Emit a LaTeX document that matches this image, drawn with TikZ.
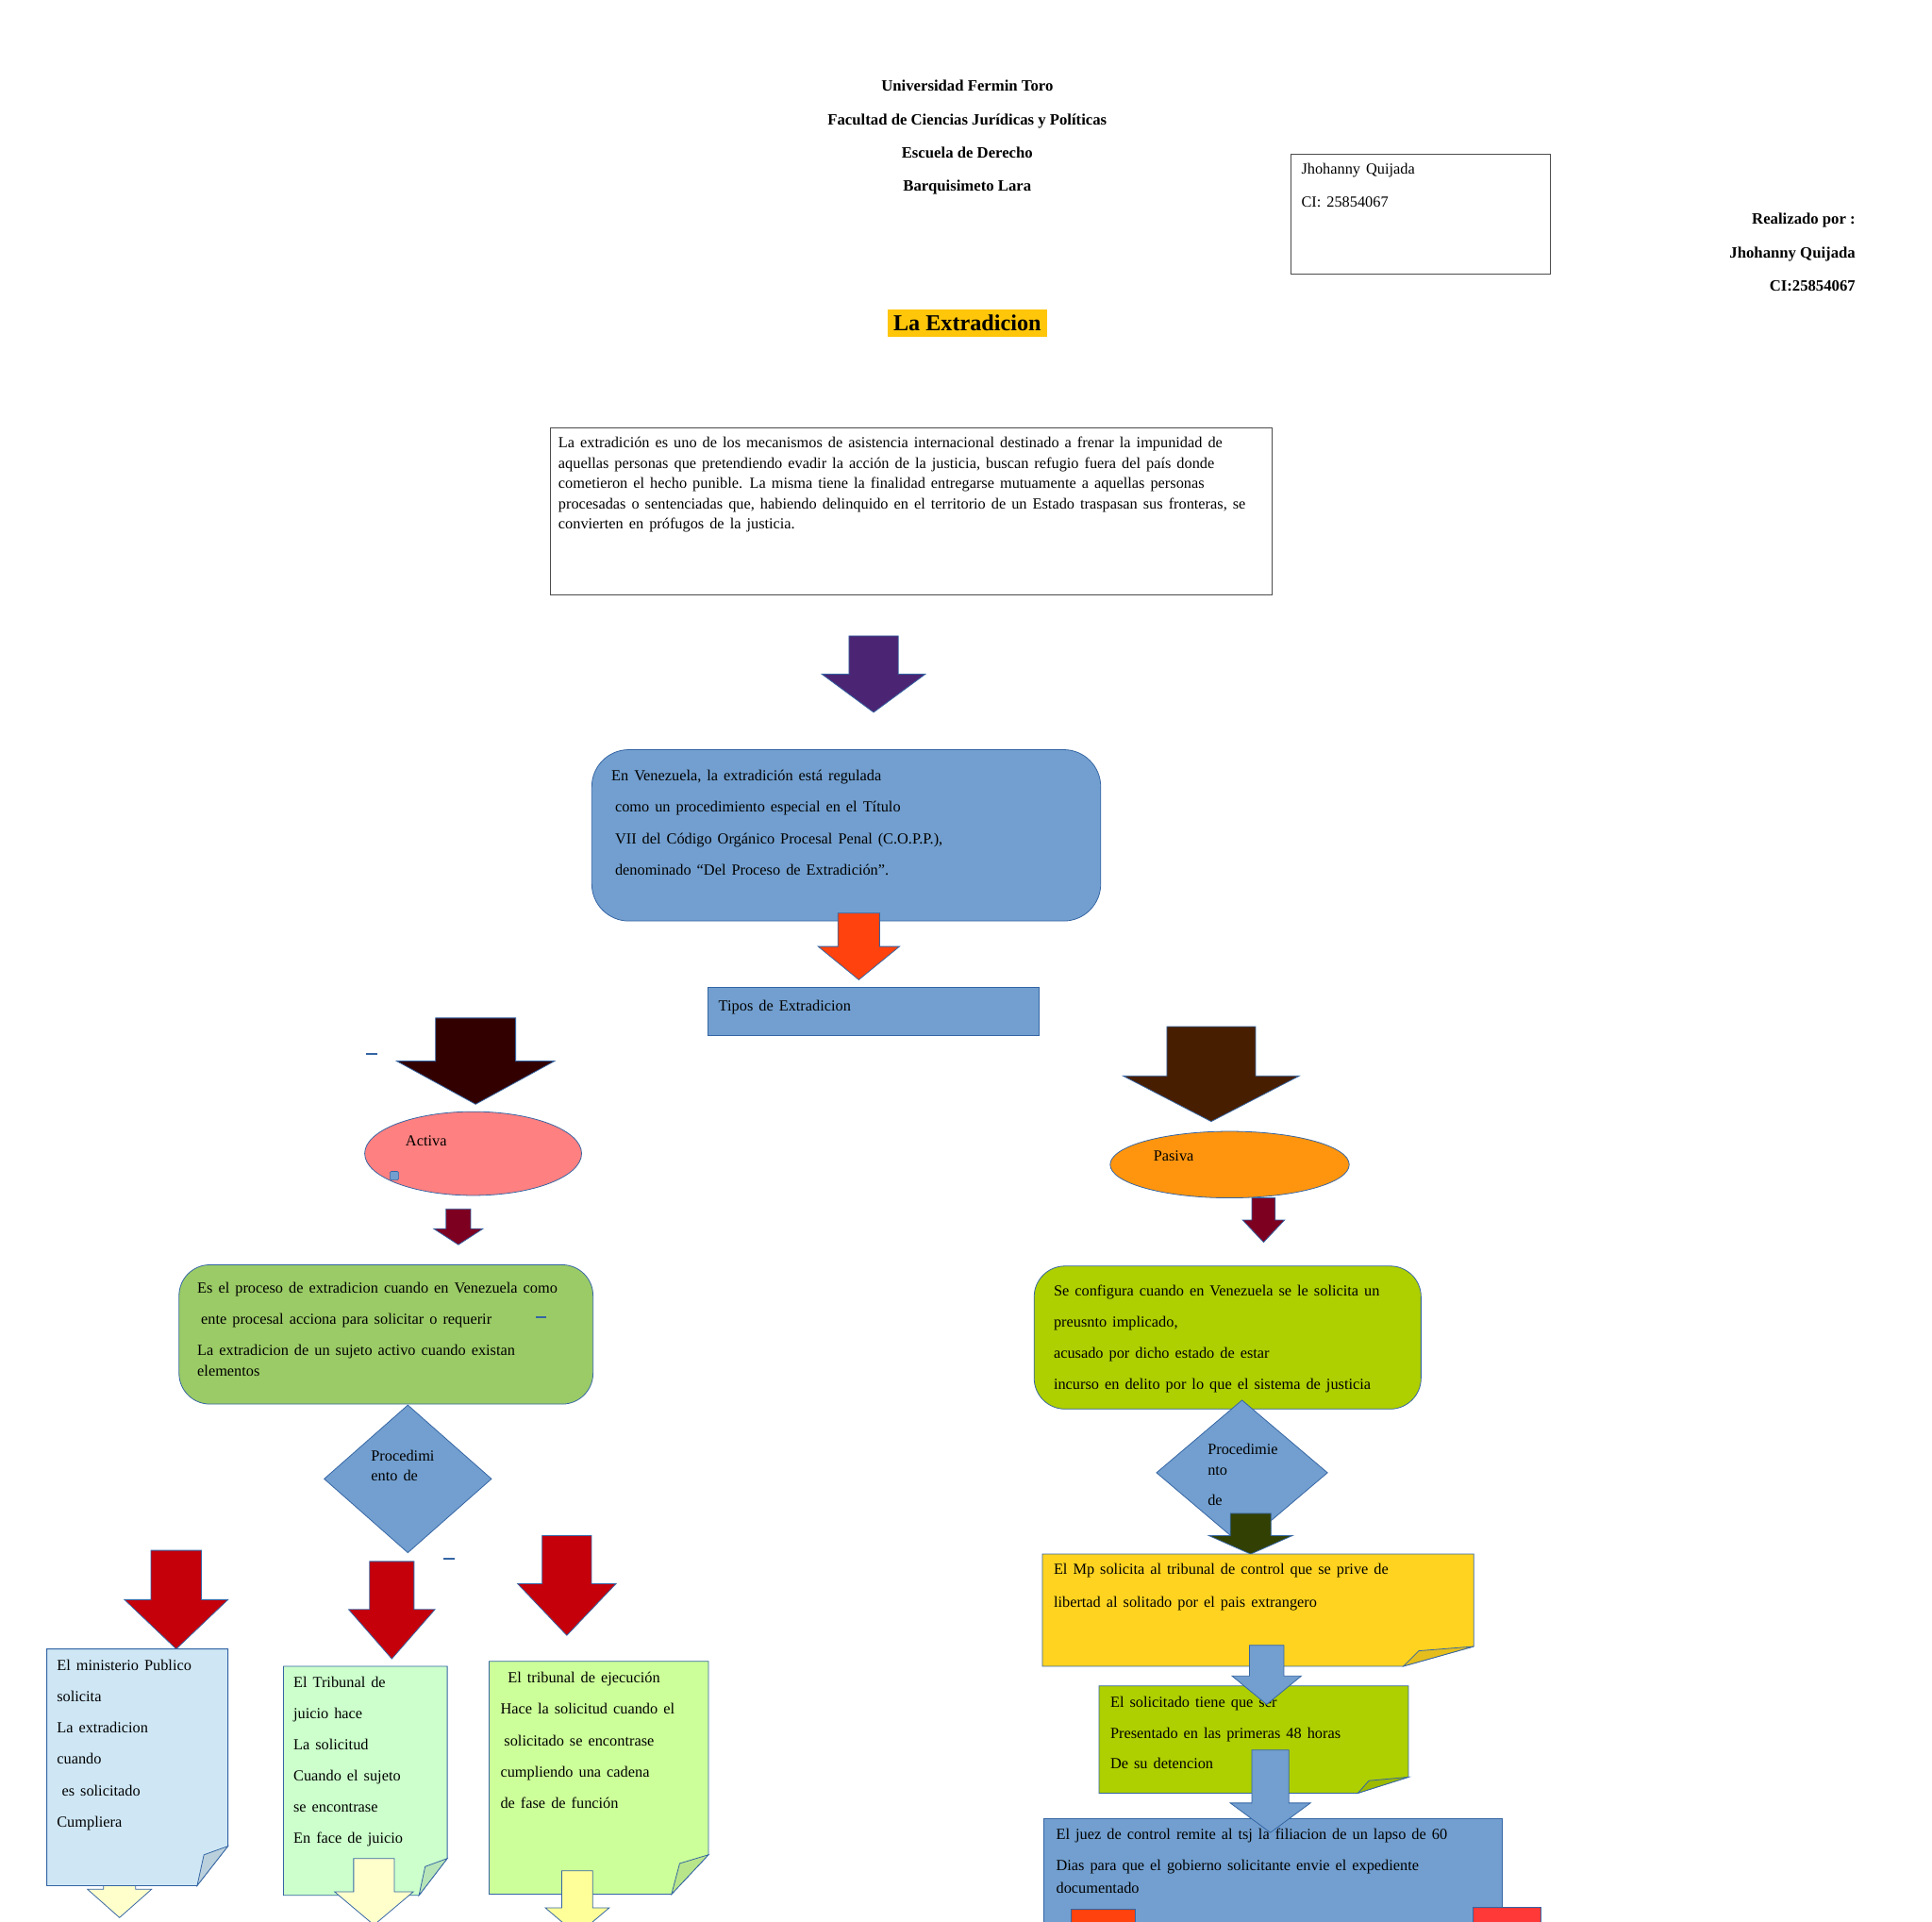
\documentclass[tikz,border=0pt]{standalone}
\usepackage{fontspec}
\setmainfont{Liberation Serif}
\usetikzlibrary{shapes.geometric}
\definecolor{lofill}{HTML}{729FCF}
\definecolor{lobord}{HTML}{3465A4}
\definecolor{orred}{HTML}{FF420E}
\definecolor{lomaroon}{HTML}{7E0021}
\definecolor{lodarkred}{HTML}{C5000B}
\definecolor{pinkact}{HTML}{FF8080}
\definecolor{orangepas}{HTML}{FF950E}
\definecolor{ygreen}{HTML}{AECF00}
\definecolor{goldy}{HTML}{FFD320}
\definecolor{greenbox}{HTML}{9BCB66}
\definecolor{docblue}{HTML}{CFE7F5}
\definecolor{docgreen}{HTML}{CCFFCC}
\definecolor{doclime}{HTML}{CCFF99}
\definecolor{paleyel}{HTML}{FFFFCC}
\definecolor{paleyelb}{HTML}{FFFF99}
\definecolor{darkact}{HTML}{330000}
\definecolor{brownpas}{HTML}{481E00}
\definecolor{purparr}{HTML}{4B2573}
\definecolor{olivearr}{HTML}{324004}
\definecolor{titley}{HTML}{FFC60A}
\definecolor{redrect}{HTML}{FF3838}
\newcommand{\bodyfont}[1]{\fontsize{12.5}{#1}\selectfont\spaceskip=4.6pt plus 1pt\relax}
\tikzset{
  arrowbox/.style={draw=lobord, line width=0.6pt, line join=miter},
  docline/.style={draw=lobord, line width=0.6pt},
  lobox/.style={draw=lobord, fill=lofill, line width=0.6pt, inner sep=0},
  plainbox/.style={draw=black!70, line width=0.8pt, fill=white, inner sep=0},
  txt/.style={anchor=north west, inner sep=0, align=left, yshift=-1.5pt, font=\bodyfont{25.3}},
  hdr/.style={inner sep=0, align=center, font=\bfseries\fontsize{12.8}{27}\selectfont},
  dashmark/.style={draw=lobord, line width=1.2pt},
}
% block arrow: name, fill, cx, ytop, body half width, yhead, head half width, ytip
\newcommand{\blockarr}[8]{%
  \filldraw[arrowbox, fill=#2] ({#3-#5},#4) -- ({#3+#5},#4) -- ({#3+#5},#6) -- ({#3+#7},#6) -- (#3,#8) coordinate (#1) -- ({#3-#7},#6) -- ({#3-#5},#6) -- cycle;}
% folded-corner document: name, fill, x1, y1, x2, y2, fx, fy
\newcommand{\folddoc}[8]{%
  \filldraw[docline, fill=#2] (#3,#4) coordinate (#1) -- (#5,#4) -- (#5,{#6-#8}) -- ({#5-#7},#6) -- (#3,#6) -- cycle;
  \filldraw[docline, fill=#2!90!black] (#5,{#6-#8}) -- ({#5-#7},#6) -- ({#5-0.78*#7},{#6-0.78*#8}) -- cycle;}
\begin{document}
\begin{tikzpicture}[x=1pt,y=-1pt]
\useasboundingbox (0,0) rectangle (1568,1559);
\fill[white] (0,0) rectangle (1568,1559);

% header
\node[hdr, anchor=north] (header) at (785,65) {Universidad Fermin Toro\\Facultad de Ciencias Jurídicas y Políticas\\Escuela de Derecho\\Barquisimeto Lara};
\node[plainbox, minimum width=211, minimum height=97, anchor=north west] (info) at (1047,125) {};
\node[txt, font=\bodyfont{27}] (infot) at (1056,131) {Jhohanny Quijada\\CI: 25854067};
\node[hdr, align=right, anchor=north east] (author) at (1506,173) {Realizado por :\\Jhohanny Quijada\\CI:25854067};
\node[fill=titley, font=\bfseries\fontsize{18.5}{20}\selectfont, minimum width=129, minimum height=22, inner sep=0] (title) at (785,262) {La Extradicion};

% intro
\node[plainbox, minimum width=586, minimum height=135, anchor=north west] (intro) at (446,347) {};
\node[txt, font=\bodyfont{16.5}] (introt) at (453,353) {La extradición es uno de los mecanismos de asistencia internacional destinado a frenar la impunidad de\\aquellas personas que pretendiendo evadir la acción de la justicia, buscan refugio fuera del país donde\\cometieron el hecho punible. La misma tiene la finalidad entregarse mutuamente a aquellas personas\\procesadas o sentenciadas que, habiendo delinquido en el territorio de un Estado traspasan sus fronteras, se\\convierten en prófugos de la justicia.};

\blockarr{a1}{purparr}{709}{516}{20}{547}{42}{578}

\node[lobox, rounded corners=30, minimum width=413, minimum height=139, anchor=north west] (venez) at (480,608) {};
\node[txt, font=\bodyfont{25.6}] (venezt) at (496,623) {En Venezuela, la extradición está regulada\\\hspace{3pt}como un procedimiento especial en el Título\\\hspace{3pt}VII del Código Orgánico Procesal Penal (C.O.P.P.),\\\hspace{3pt}denominado “Del Proceso de Extradición”.};

\blockarr{a2}{orred}{697}{741}{17}{768}{33}{795}
\node[lobox, minimum width=269, minimum height=39, anchor=north west] (tipos) at (574,801) {};
\node[txt] (tipost) at (583,810) {Tipos de Extradicion};

% Activa branch
\blockarr{a3}{darkact}{386}{826}{32.5}{861}{64}{896}
\draw[dashmark] (297,855) -- (306,855);
\node[ellipse, draw=lobord, line width=0.6pt, fill=pinkact, minimum width=176, minimum height=68, inner sep=0] (activa) at (384,936) {};
\node[txt] (activat) at (329,920) {Activa};
\node[draw=lobord, fill=lofill, minimum size=7, inner sep=0, rounded corners=1] (handle) at (320,954) {};
\blockarr{a4}{lomaroon}{372}{981}{10}{997}{20}{1010}

\node[lobox, fill=greenbox, rounded corners=25, minimum width=336, minimum height=113, anchor=north west] (activo) at (145,1026) {};
\node[txt] (activot) at (160,1039) {Es el proceso de extradicion cuando en Venezuela como\\\hspace{3pt}ente procesal acciona para solicitar o requerir\\La extradicion de un sujeto activo cuando existan\\[-8.5pt]elementos};
\draw[dashmark] (435,1069) -- (443,1069);

\node[diamond, draw=lobord, line width=0.6pt, fill=lofill, minimum width=136, minimum height=120, inner sep=0] (proca) at (331,1200) {};
\node[txt, font=\bodyfont{16}] (procat) at (301,1175) {Procedimi\\ento de};
\draw[dashmark] (360,1265) -- (369,1265);

\blockarr{r1}{lodarkred}{143}{1258}{20.5}{1298}{42}{1338}
\blockarr{r2}{lodarkred}{318}{1267}{18}{1306}{35}{1346}
\blockarr{r3}{lodarkred}{460}{1246}{20}{1285}{40}{1327}

\blockarr{p1}{paleyel}{97}{1515}{13}{1533}{26}{1556}
\folddoc{docA}{docblue}{38}{1338}{185}{1530}{25}{32}
\node[txt, font=\bodyfont{25.4}] (docAt) at (46,1345) {El ministerio Publico\\solicita\\La extradicion\\cuando\\\hspace{4pt}es solicitado\\Cumpliera};

\folddoc{docB}{docgreen}{230}{1352}{363}{1538}{23}{30}
\node[txt, font=\bodyfont{25.2}] (docBt) at (238,1359) {El Tribunal de\\juicio hace\\La solicitud\\Cuando el sujeto\\se encontrase\\En face de juicio};
\blockarr{p2}{paleyel}{303.5}{1508}{16.5}{1535}{32}{1562}

\folddoc{docC}{doclime}{397}{1348}{575}{1537}{30}{32}
\node[txt, font=\bodyfont{25.5}] (docCt) at (406,1355) {\hspace{6pt}El tribunal de ejecución\\Hace la solicitud cuando el\\\hspace{3pt}solicitado se encontrase\\cumpliendo una cadena\\de fase de función};
\blockarr{p3}{paleyelb}{468.5}{1518}{12.5}{1548}{26}{1570}

% Pasiva branch
\blockarr{a5}{brownpas}{983}{833}{36}{873}{71.5}{910}
\node[ellipse, draw=lobord, line width=0.6pt, fill=orangepas, minimum width=194, minimum height=54, inner sep=0] (pasiva) at (998,945) {};
\node[txt] (pasivat) at (936,932) {Pasiva};
\blockarr{a6}{lomaroon}{1025.5}{972}{9.5}{990}{17}{1008}

\node[lobox, fill=ygreen, rounded corners=25, minimum width=314, minimum height=116, anchor=north west] (pasivo) at (839,1027) {};
\node[txt] (pasivot) at (855,1041) {Se configura cuando en Venezuela se le solicita un\\preusnto implicado,\\acusado por dicho estado de estar\\incurso en delito por lo que el sistema de justicia};

\node[diamond, draw=lobord, line width=0.6pt, fill=lofill, minimum width=139, minimum height=118, inner sep=0] (procb) at (1008,1195) {};
\node[txt, font=\bodyfont{17}] (procbt) at (980,1170) {Procedimie\\nto\\[7pt]de};
\blockarr{a7}{olivearr}{1015}{1228}{16.5}{1246}{34}{1261}

\folddoc{docMp}{goldy}{846}{1261}{1196}{1352}{57}{16}
\node[txt, font=\bodyfont{27}] (docMpt) at (855,1267) {El Mp solicita al tribunal de control que se prive de\\libertad al solitado por el pais extrangero};

\folddoc{docSol}{ygreen}{892}{1368}{1143}{1455}{41}{13}
\node[txt, font=\bodyfont{25}] (docSolt) at (901,1375) {El solicitado tiene que ser\\Presentado en las primeras 48 horas\\De su detencion};
\blockarr{b1}{lofill}{1028}{1335}{14}{1360}{28}{1383}

\node[lobox, minimum width=372, minimum height=100, anchor=north west] (juez) at (847,1475) {};
\node[txt, font=\bodyfont{25}] (juezt) at (857,1482) {El juez de control remite al tsj la filiacion de un lapso de 60\\Dias para que el gobierno solicitante envie el expediente\\[-6pt]documentado};
\node[draw=lobord, fill=orred, minimum width=52, minimum height=20, inner sep=0, anchor=north west] (bota) at (869,1549) {};
\node[draw=lobord, fill=redrect, minimum width=55, minimum height=20, inner sep=0, anchor=north west] (botb) at (1195,1547) {};
\blockarr{b2}{lofill}{1031}{1420}{15}{1463}{32.5}{1487}
\end{tikzpicture}
\end{document}
